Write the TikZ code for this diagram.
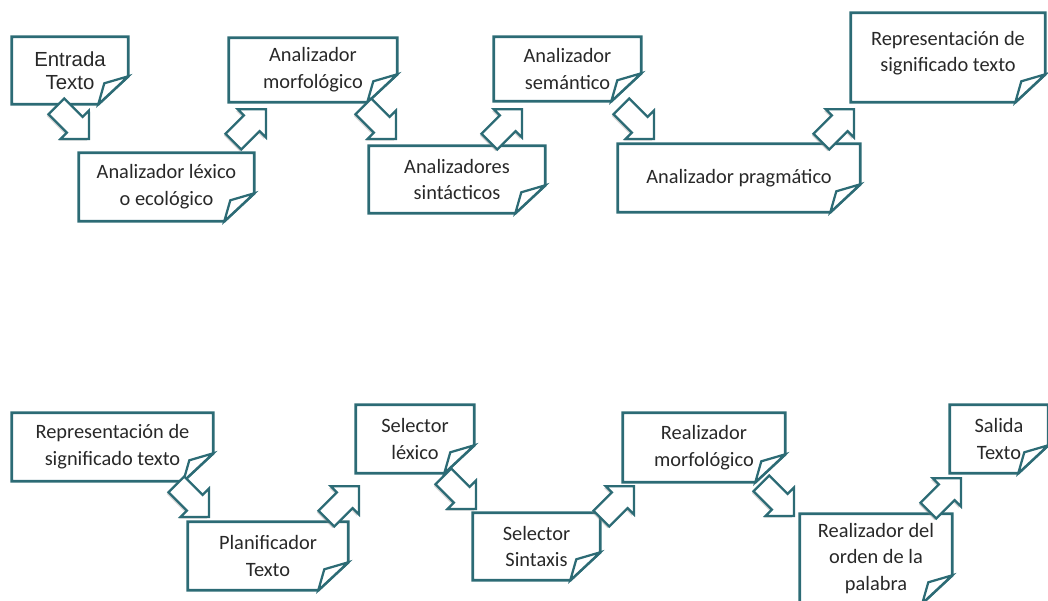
\documentclass[tikz,border=0pt]{standalone}
\usepackage{fontspec}
\setmainfont{Carlito}
\newfontfamily\arial{Liberation Sans}
\usetikzlibrary{shapes.arrows,shadows}
\definecolor{azulver}{RGB}{44,107,117}
\definecolor{gristexto}{RGB}{40,40,40}

\begin{document}
\begin{tikzpicture}[x=0.025cm,y=-0.025cm,
    borde/.style={draw=azulver,line width=2pt,line join=miter},
    hoja/.style 2 args={rectangle,minimum width=#1,minimum height=#2,align=center,
        text=gristexto,font=\fontsize{14.5}{19}\selectfont,
        append after command={\pgfextra{\let\hojanode\tikzlastnode
            \begin{pgfinterruptpath}
            \draw[borde](\hojanode.north west)--(\hojanode.north east)
                --([yshift=0.7cm]\hojanode.south east)--([xshift=-0.75cm]\hojanode.south east)
                --(\hojanode.south west)--cycle;
            \draw[borde,line width=1.6pt,fill=white]([yshift=0.7cm]\hojanode.south east)
                --([xshift=-0.6cm,yshift=0.525cm]\hojanode.south east)
                --([xshift=-0.75cm]\hojanode.south east)--cycle;
            \end{pgfinterruptpath}}}},
    flecha/.style={single arrow,draw=azulver,fill=white,line width=1.6pt,
        inner xsep=0pt,inner ysep=0.25cm,single arrow head extend=0.22cm,
        minimum height=1.15cm,anchor=tip,
        drop shadow={shadow xshift=-1.2pt,shadow yshift=-1.2pt,opacity=0.35}},
    baja/.style={flecha,rotate=-45},
    sube/.style={flecha,rotate=45}]
            \useasboundingbox(0, 0)rectangle(1048, 600);
            \node[hoja={2.9cm}{1.675cm},font=\arial\fontsize{14.5}{16.5}\selectfont](t1)at(70, 70.5){Entrada\\Texto};
            \node[hoja={4.375cm}{1.7cm}](t2)at(166.5, 187){Analizador léxico\\o ecológico};
            \node[hoja={4.2cm}{1.6cm}](t3)at(313, 70){Analizador\\morfológico};
            \node[hoja={4.4cm}{1.675cm}](t4)at(457, 179.5){Analizadores\\sintácticos};
            \node[hoja={3.675cm}{1.6cm}](t5)at(567.5, 69){Analizador\\semántico};
            \node[hoja={6.05cm}{1.7cm}](t6)at(739, 178){Analizador pragmático};
            \node[hoja={4.85cm}{2.225cm},text depth=0.3cm](t7)at(948, 57.5){Representación de\\significado texto};
            \node[hoja={5.025cm}{1.7cm}](b1)at(112.5, 447){Representación de\\significado texto};
            \node[hoja={4cm}{1.7cm}](b2)at(268, 556){Planificador\\Texto};
            \node[hoja={2.95cm}{1.7cm}](b3)at(415, 439){Selector\\léxico};
            \node[hoja={3.175cm}{1.675cm}](b4)at(536.5, 546.5){Selector\\Sintaxis};
            \node[hoja={4.05cm}{1.725cm}](b5)at(704, 447.5){Realizador\\morfológico};
            \node[hoja={3.8cm}{2.225cm}](b6)at(876, 558.5){Realizador del\\orden de la\\palabra};
            \node[hoja={2.45cm}{1.7cm}](b7)at(999, 439){Salida\\Texto};
            \node[baja](f1)at(90, 140){};
            \node[sube](f2)at(267, 108){};
            \node[baja](f3)at(397, 140){};
            \node[sube](f4)at(523, 108){};
            \node[baja](f5)at(655, 140){};
            \node[sube](f6)at(855, 108){};
            \node[baja](g1)at(210, 518){};
            \node[sube](g2)at(360, 485){};
            \node[baja](g3)at(477, 510){};
            \node[sube](g4)at(635, 485){};
            \node[baja](g5)at(795, 517){};
            \node[sube](g6)at(962, 477){};
        \end{tikzpicture}
\end{document}
